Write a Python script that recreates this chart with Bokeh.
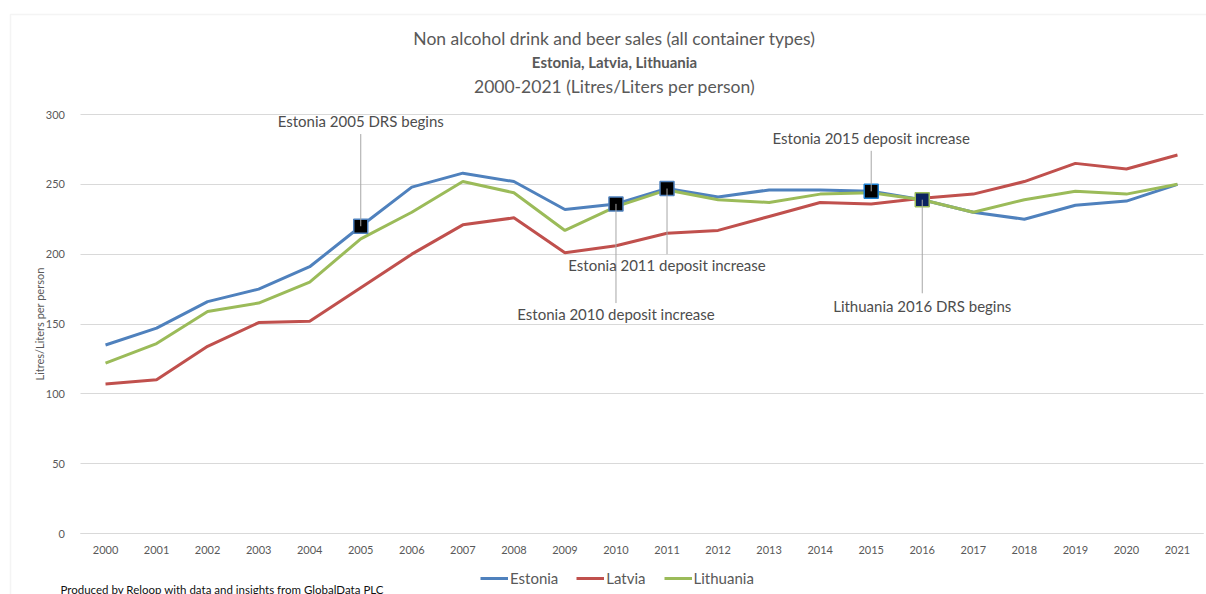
from bokeh.plotting import figure
from bokeh.models import (Label, BoxAnnotation, Legend, LegendItem, ColumnDataSource,
                          FixedTicker, Range1d, LinearAxis, Grid)
from bokeh.embed import file_html
from bokeh.resources import INLINE

years = list(range(2000, 2022))
year_labels = [str(y) for y in years]
estonia = [135, 147, 166, 175, 191, 220, 248, 258, 252, 232, 236, 247, 241, 246, 246, 245, 239, 230, 225, 235, 238, 250]
latvia = [107, 110, 134, 151, 152, 176, 200, 221, 226, 201, 206, 215, 217, 227, 237, 236, 240, 243, 252, 265, 261, 271]
lithuania = [122, 136, 159, 165, 180, 211, 230, 252, 244, 217, 234, 246, 239, 237, 243, 244, 239, 230, 239, 245, 243, 250]
y_ticks = [0, 50, 100, 150, 200, 250, 300]

series_names = ["Estonia", "Latvia", "Lithuania"]
series_colors = ["#4F81BD", "#C0504D", "#9BBB59"]

event_years = [2005, 2010, 2011, 2015, 2016]
event_series = ["Estonia", "Estonia", "Estonia", "Estonia", "Lithuania"]
event_texts = ["Estonia 2005 DRS begins", "Estonia 2010 deposit increase",
               "Estonia 2011 deposit increase", "Estonia 2015 deposit increase",
               "Lithuania 2016 DRS begins"]
event_label_y = [295, 157, 192, 283, 163]
event_leader_end = [286, 165, 200, 274, 172]
event_fill = ["#000000", "#000000", "#000000", "#000000", "#0C2260"]
event_border = ["#4F81BD", "#4F81BD", "#4F81BD", "#1E7FD0", "#9BBB59"]

FONT = "Lato"
GREY = "#595959"

# canvas layout: the plotting area (1999.5..2021.5, 0..300) sits at px x 79.5..1202.5, y 114..533
W, H = 1206, 594
PX_L, PX_R, PX_T, PX_B = 79.5, 1202.5, 114.0, 533.0
X0, X1, Y0, Y1 = years[0] - 0.5, years[-1] + 0.5, 0, 300
ppx = (PX_R - PX_L) / (X1 - X0)
ppy = (PX_B - PX_T) / (Y1 - Y0)
x_range = Range1d(X0 - PX_L / ppx, X1 + (W - PX_R) / ppx)
y_range = Range1d(Y0 - (H - PX_B) / ppy, Y1 + PX_T / ppy)

p = figure(width=W, height=H, x_range=x_range, y_range=y_range,
           output_backend="svg", toolbar_location=None, tools="",
           x_axis_location=None, y_axis_location=None,
           min_border_left=0, min_border_right=0, min_border_top=0, min_border_bottom=0)
p.outline_line_color = None
p.background_fill_color = "white"
p.border_fill_color = "white"
p.center = []

ygrid = Grid(dimension=1, ticker=FixedTicker(ticks=y_ticks), grid_line_color="#d9d9d9",
             grid_line_width=1, cross_bounds=(X0, X1))
p.add_layout(ygrid)

yaxis = LinearAxis(fixed_location=X0, bounds=(Y0, Y1), ticker=FixedTicker(ticks=y_ticks))
yaxis.axis_line_color = None
yaxis.major_tick_line_color = None
yaxis.minor_tick_line_color = None
yaxis.major_tick_out = 0
yaxis.major_tick_in = 0
yaxis.major_label_standoff = 15
yaxis.major_label_text_font = FONT
yaxis.major_label_text_font_size = "11px"
yaxis.major_label_text_color = GREY
yaxis.axis_label = "Litres/Liters per person"
yaxis.axis_label_text_font = FONT
yaxis.axis_label_text_font_size = "11px"
yaxis.axis_label_text_font_style = "normal"
yaxis.axis_label_text_color = GREY
yaxis.axis_label_standoff = -3
p.add_layout(yaxis, "left")

xaxis = LinearAxis(fixed_location=Y0, bounds=(X0, X1), ticker=FixedTicker(ticks=years))
xaxis.major_label_overrides = {y: s for y, s in zip(years, year_labels)}
xaxis.axis_line_color = "#d9d9d9"
xaxis.major_tick_line_color = None
xaxis.minor_tick_line_color = None
xaxis.major_tick_out = 0
xaxis.major_tick_in = 0
xaxis.major_label_standoff = 12
xaxis.major_label_text_font = FONT
xaxis.major_label_text_font_size = "11px"
xaxis.major_label_text_color = GREY
p.add_layout(xaxis, "below")

data = {"Estonia": estonia, "Latvia": latvia, "Lithuania": lithuania}
renderers = []
for name, color in zip(series_names, series_colors):
    r = p.line(years, data[name], line_width=3, line_color=color)
    renderers.append(r)

marker_y = [data[s][years.index(y)] for s, y in zip(event_series, event_years)]
ev = ColumnDataSource(dict(x=event_years, y=marker_y, y1=event_leader_end, ly=event_label_y,
                           text=event_texts, fill=event_fill, border=event_border))
p.scatter("x", "y", source=ev, marker="square", size=14, fill_color="fill",
          line_color="border", line_width=1.5)
p.segment(x0="x", y0="y", x1="x", y1="y1", source=ev, line_color="#a6a6a6", line_width=1)

for x, ly, t in zip(event_years, event_label_y, event_texts):
    p.add_layout(Label(x=x, y=ly, text=t, text_align="center", text_baseline="middle",
                       text_font=FONT, text_font_size="15px", text_color="#4d4d4d"))

# titles (screen units: from the canvas bottom-left, since the frame fills the canvas)
title_lines = ["Non alcohol drink and beer sales (all container types)",
               "Estonia, Latvia, Lithuania",
               "2000-2021 (Litres/Liters per person)"]
title_styles = ["normal", "bold", "normal"]
title_sizes = ["17.5px", "15px", "17.5px"]
title_px_y = [38, 61, 86]
for t, st, sz, ty in zip(title_lines, title_styles, title_sizes, title_px_y):
    p.add_layout(Label(x=614, y=H - ty, x_units="screen", y_units="screen", text=t,
                       text_align="center", text_baseline="middle", text_font=FONT,
                       text_font_size=sz, text_font_style=st, text_color=GREY))

p.add_layout(Label(x=60, y=H - 582, x_units="screen", y_units="screen",
                   text="Produced by Reloop with data and insights from GlobalData PLC",
                   text_align="left", text_baseline="top", text_font=FONT,
                   text_font_size="11.5px", text_color="#111111"))

p.add_layout(BoxAnnotation(left=10, right=W + 50, top=H - 14, bottom=-50,
                           left_units="screen", right_units="screen",
                           top_units="screen", bottom_units="screen",
                           fill_color=None, fill_alpha=0, line_color="#dcdcdc", line_width=1.5))

legend = Legend(items=[LegendItem(label=n, renderers=[r]) for n, r in zip(series_names, renderers)],
                orientation="horizontal", location=(480, H - 587))
legend.padding = 0
legend.margin = 0
legend.spacing = 18
legend.glyph_width = 28
legend.glyph_height = 14
legend.label_height = 14
legend.label_standoff = 2
legend.label_text_font = FONT
legend.label_text_font_size = "15px"
legend.label_text_color = GREY
legend.border_line_color = None
legend.background_fill_alpha = 0
p.add_layout(legend, "center")

open("out.html", "w").write(file_html(p, INLINE))
